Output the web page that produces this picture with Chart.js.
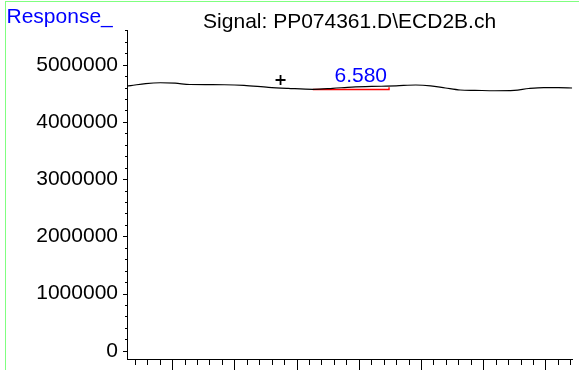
<!DOCTYPE html>
<html><head><meta charset="utf-8">
<script src="https://cdn.jsdelivr.net/npm/chart.js@4/dist/chart.umd.min.js"></script>
<style>html,body{margin:0;padding:0;background:#fff}canvas{display:block}</style>
</head><body>
<canvas id="c" width="579" height="370"></canvas>
<script>
const FONT = '"Liberation Sans", Arial, Helvetica, sans-serif';
const chartTitle = 'Signal: PP074361.D\\ECD2B.ch';
const yAxisTitle = 'Response_';
const signalTimes = [4.637, 4.668, 4.787, 4.905, 5.024, 5.142, 5.419, 5.577, 5.774, 5.932, 6.130, 6.290, 6.445, 6.682, 6.800, 6.958, 7.077, 7.196, 7.314, 7.433, 7.591, 7.749, 7.867, 7.986, 8.104, 8.215];
const signalResponse = [4628000, 4636000, 4671000, 4685000, 4677000, 4654000, 4650000, 4640000, 4605000, 4587000, 4570000, 4587000, 4610000, 4624000, 4631000, 4645000, 4631000, 4593000, 4558000, 4552000, 4545000, 4552000, 4584000, 4601000, 4598000, 4593000];
const baselineTimes = [6.130, 6.743, 6.743];
const baselineResponse = [4566000, 4566000, 4605000];
const markerTimes = [5.871];
const markerResponse = [4733000];
const peakTimes = [6.580];
const peakLabels = ['6.580'];
const yTicks = [0, 1000000, 2000000, 3000000, 4000000, 5000000];
const yRange = [-145000, 5607000];
const xRange = [4.637, 8.215];
const xMajorStep = 0.5, xMinorStep = 0.1, yMinorStep = 200000;

const toXY = (xs, ys) => xs.map((x, i) => ({x: x, y: ys[i]}));

function interpSignal(t) {
  for (let i = 0; i < signalTimes.length - 1; i++) {
    if (t >= signalTimes[i] && t <= signalTimes[i + 1]) {
      const f = (t - signalTimes[i]) / (signalTimes[i + 1] - signalTimes[i]);
      return signalResponse[i] + f * (signalResponse[i + 1] - signalResponse[i]);
    }
  }
  return signalResponse[0];
}

const decor = {
  id: 'decor',
  afterDraw(chart) {
    const ctx = chart.ctx, xs = chart.scales.x, ys = chart.scales.y, ca = chart.chartArea;
    ctx.save();
    // frame
    ctx.fillStyle = '#80ff80';
    ctx.fillRect(5, 1, 574, 1);
    ctx.fillRect(5, 1, 1, 369);
    // y minor/major ticks
    ctx.strokeStyle = '#000';
    ctx.lineWidth = 1;
    ctx.beginPath();
    for (let v = 0; v <= yRange[1]; v += yMinorStep) {
      const major = Math.abs(v % 1000000) < 1;
      const py = Math.round(ys.getPixelForValue(v)) + 0.5;
      const len = major ? 4 : 2;
      ctx.moveTo(ca.left - len, py);
      ctx.lineTo(ca.left, py);
    }
    // x ticks
    const start = Math.ceil(xRange[0] / xMinorStep - 1e-6);
    for (let k = start; k * xMinorStep <= xRange[1] + 1e-9; k++) {
      const t = k * xMinorStep;
      const major = Math.abs(t / xMajorStep - Math.round(t / xMajorStep)) < 1e-6;
      const px = Math.round(xs.getPixelForValue(t)) + 0.5;
      const len = major ? 14 : 6;
      ctx.moveTo(px, ca.bottom);
      ctx.lineTo(px, ca.bottom + len);
    }
    ctx.stroke();
    // peak labels
    ctx.fillStyle = '#0000ff';
    ctx.font = '21px ' + FONT;
    ctx.textAlign = 'center';
    ctx.textBaseline = 'alphabetic';
    peakTimes.forEach((t, i) => {
      const px = xs.getPixelForValue(t) - 8;
      const py = ys.getPixelForValue(interpSignal(t)) - 5;
      ctx.fillText(peakLabels[i], px, py);
    });
    // title
    ctx.fillStyle = '#000';
    ctx.fillText(chartTitle, (ca.left + ca.right) / 2, 27.5);
    // y axis title
    ctx.fillStyle = '#0000ff';
    ctx.textAlign = 'left';
    ctx.fillText(yAxisTitle, 6.5, 23);
    ctx.restore();
  }
};

new Chart(document.getElementById('c'), {
  type: 'line',
  data: {
    datasets: [
      {data: toXY(signalTimes, signalResponse), borderColor: '#000', borderWidth: 1.2, pointRadius: 0, cubicInterpolationMode: 'monotone', fill: false},
      {data: toXY(baselineTimes, baselineResponse), borderColor: '#ff0000', borderWidth: 1.4, pointRadius: 0, tension: 0, fill: false},
      {data: toXY(markerTimes, markerResponse), showLine: false, pointStyle: 'cross', pointRadius: 5, pointBorderWidth: 1.8, pointBorderColor: '#000', borderColor: '#000'}
    ]
  },
  options: {
    responsive: false,
    animation: false,
    devicePixelRatio: 1,
    layout: {padding: {left: 0, top: 30, right: 0, bottom: 0}},
    plugins: {legend: {display: false}, tooltip: {enabled: false}, title: {display: false}},
    scales: {
      x: {
        type: 'linear', min: xRange[0], max: xRange[1],
        ticks: {display: false},
        grid: {display: false, drawTicks: false},
        border: {display: true, color: '#000', width: 1},
        afterFit(s) { s.height = 11; s.paddingLeft = 0; s.paddingRight = 0; }
      },
      y: {
        type: 'linear', min: yRange[0], max: yRange[1],
        afterBuildTicks(s) { s.ticks = yTicks.map(v => ({value: v})); },
        ticks: {color: '#000', font: {family: FONT, size: 21}, padding: 9, callback: v => String(v)},
        grid: {display: false, drawTicks: false},
        border: {display: true, color: '#000', width: 1},
        afterFit(s) { s.width = 127; s.paddingTop = 0; s.paddingBottom = 0; }
      }
    }
  },
  plugins: [decor]
});
</script>
</body></html>
